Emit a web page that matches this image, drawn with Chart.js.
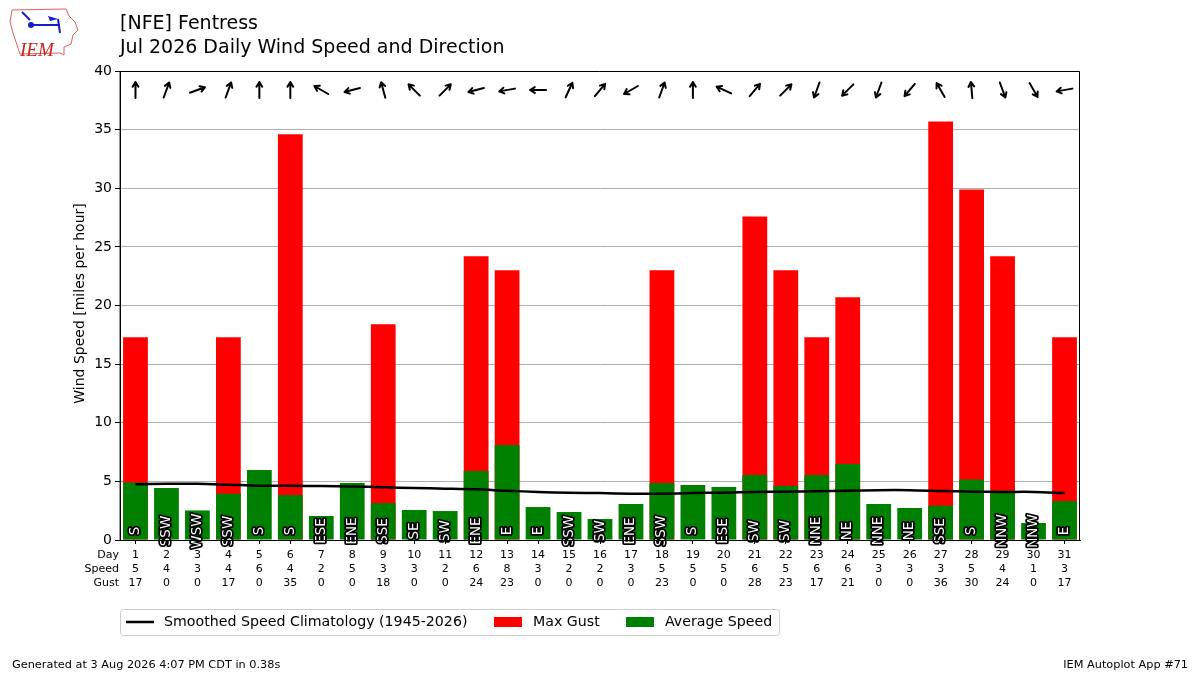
<!DOCTYPE html>
<html lang="en">
<head>
    <meta charset="UTF-8">
    <title>[NFE] Fentress - Jul 2026 Daily Wind Speed and Direction</title>
    <script src="https://cdn.jsdelivr.net/npm/chart.js"></script>
    <style>
        html, body { margin: 0; padding: 0; background: #fff; }
        canvas { display: block; }
    </style>
</head>
<body>
    <canvas id="windChart" width="1200" height="675"></canvas>

    <script>
        // values
        const days = ['1','2','3','4','5','6','7','8','9','10','11','12','13','14','15','16',
                      '17','18','19','20','21','22','23','24','25','26','27','28','29','30','31'];
        const avgSpeed = [4.9, 4.43, 2.52, 3.95, 5.97, 3.84, 2.05, 4.86, 3.16, 2.56, 2.47, 5.88, 8.1, 2.81, 2.39, 1.79,
                          3.07, 4.86, 4.69, 4.52, 5.54, 4.63, 5.54, 6.48, 3.07, 2.73, 2.93, 5.17, 4.2, 1.45, 3.33];
        const maxGust = [17.3, 0, 0, 17.3, 0, 34.6, 0, 0, 18.4, 0, 0, 24.2, 23.0, 0, 0, 0,
                         0, 23.0, 0, 0, 27.6, 23.0, 17.3, 20.7, 0, 0, 35.7, 29.9, 24.2, 0, 17.3];
        const climo = [4.75, 4.8, 4.8, 4.72, 4.63, 4.62, 4.6, 4.57, 4.5, 4.43, 4.38, 4.32, 4.2, 4.1, 4.03, 4.0,
                       3.95, 3.95, 4.0, 4.04, 4.1, 4.12, 4.15, 4.2, 4.25, 4.25, 4.18, 4.12, 4.1, 4.1, 4.0];
        // wind coming-from direction in degrees
        const dirDeg = [180, 200, 250, 200, 180, 180, 120, 75, 165, 135, 225, 75, 80, 90, 205, 220,
                        60, 200, 180, 115, 220, 225, 20, 45, 20, 40, 150, 175, 340, 330, 80];
        const dirText = ['S','SSW','WSW','SSW','S','S','ESE','ENE','SSE','SE','SW','ENE','E','E','SSW','SW',
                         'ENE','SSW','S','ESE','SW','SW','NNE','NE','NNE','NE','SSE','S','NNW','NNW','E'];
        const speedLabels = ['5','4','3','4','6','4','2','5','3','3','2','6','8','3','2','2',
                             '3','5','5','5','6','5','6','6','3','3','3','5','4','1','3'];
        const gustLabels = ['17','0','0','17','0','35','0','0','18','0','0','24','23','0','0','0',
                            '0','23','0','0','28','23','17','21','0','0','36','30','24','0','17'];
        const rowNames = ['Day', 'Speed', 'Gust'];

        const FONT = '"DejaVu Sans", sans-serif';
        const TICK_LEN = 4, TICK_PAD = 4, LINE_H = 14;

        // arrows, direction names, frame, titles, legend, footer
        const decorations = {
            id: 'decorations',
            afterDatasetsDraw(chart) {
                const { ctx, chartArea: a, scales: { x, y } } = chart;
                ctx.save();

                // direction names inside the bars
                ctx.font = '13.5px ' + FONT;
                ctx.textAlign = 'center';
                ctx.textBaseline = 'middle';
                ctx.lineJoin = 'round';
                dirText.forEach((t, i) => {
                    ctx.save();
                    ctx.translate(x.getPixelForValue(i), y.getPixelForValue(0) - 9);
                    ctx.rotate(-Math.PI / 2);
                    ctx.lineWidth = 3.5;
                    ctx.strokeStyle = '#000';
                    ctx.strokeText(t, 0, 0);
                    ctx.fillStyle = '#fff';
                    ctx.fillText(t, 0, 0);
                    ctx.restore();
                });

                // arrows pointing downwind
                ctx.strokeStyle = '#000';
                ctx.lineWidth = 2;
                ctx.lineCap = 'round';
                dirDeg.forEach((d, i) => {
                    const th = (d + 180) * Math.PI / 180;
                    const dx = Math.sin(th), dy = -Math.cos(th);
                    const ang = Math.atan2(dy, dx);
                    const cx = x.getPixelForValue(i), cy = a.top + 19, half = 8;
                    const tx = cx + dx * half, ty = cy + dy * half;
                    const hl = 5.5, ha = 0.55;
                    ctx.beginPath();
                    ctx.moveTo(cx - dx * half, cy - dy * half);
                    ctx.lineTo(tx, ty);
                    ctx.moveTo(tx - hl * Math.cos(ang - ha), ty - hl * Math.sin(ang - ha));
                    ctx.lineTo(tx, ty);
                    ctx.lineTo(tx - hl * Math.cos(ang + ha), ty - hl * Math.sin(ang + ha));
                    ctx.stroke();
                });

                // frame
                ctx.lineWidth = 1;
                ctx.strokeRect(a.left + 0.5, a.top + 0.5, a.width - 1, a.height);
                ctx.restore();
            },
            afterDraw(chart) {
                const { ctx, chartArea: a } = chart;
                ctx.save();
                ctx.fillStyle = '#000';

                // row headers for the tick table
                ctx.font = '11px ' + FONT;
                ctx.textAlign = 'right';
                ctx.textBaseline = 'middle';
                rowNames.forEach((r, k) => {
                    ctx.fillText(r, a.left - 1, a.bottom + TICK_LEN + TICK_PAD + LINE_H / 2 + k * LINE_H);
                });

                // y axis title
                ctx.save();
                ctx.translate(80, (a.top + a.bottom) / 2 - 2);
                ctx.rotate(-Math.PI / 2);
                ctx.textAlign = 'center';
                ctx.font = '14px ' + FONT;
                ctx.fillText('Wind Speed [miles per hour]', 0, 0);
                ctx.restore();

                // titles
                ctx.textAlign = 'left';
                ctx.font = '19px ' + FONT;
                ctx.fillText('[NFE] Fentress', 120, 24);
                ctx.fillText('Jul 2026 Daily Wind Speed and Direction', 120, 48);

                // footer
                ctx.font = '11.3px ' + FONT;
                ctx.fillText('Generated at 3 Aug 2026 4:07 PM CDT in 0.38s', 12, 665);
                ctx.textAlign = 'right';
                ctx.fillText('IEM Autoplot App #71', 1188, 665);

                // legend
                const ds = chart.data.datasets;
                ctx.textAlign = 'left';
                ctx.strokeStyle = '#cccccc';
                ctx.lineWidth = 1;
                ctx.beginPath();
                ctx.roundRect(120.5, 609.5, 659, 26, 3);
                ctx.fillStyle = '#fff';
                ctx.fill();
                ctx.stroke();
                ctx.font = '14.2px ' + FONT;
                ctx.fillStyle = '#000';
                ctx.strokeStyle = '#000';
                ctx.lineWidth = 2.5;
                ctx.beginPath();
                ctx.moveTo(126, 622);
                ctx.lineTo(154, 622);
                ctx.stroke();
                ctx.fillText(ds[0].label, 164, 622);
                ctx.fillStyle = ds[1].backgroundColor;
                ctx.fillRect(494, 617, 28, 10);
                ctx.fillStyle = '#000';
                ctx.fillText(ds[1].label, 533, 622);
                ctx.fillStyle = ds[2].backgroundColor;
                ctx.fillRect(626, 617, 28, 10);
                ctx.fillStyle = '#000';
                ctx.fillText(ds[2].label, 665, 622);

                // rough IEM logo
                ctx.strokeStyle = '#e06060';
                ctx.lineWidth = 1;
                ctx.beginPath();
                ctx.moveTo(12, 10); ctx.lineTo(66, 9); ctx.lineTo(69, 16); ctx.lineTo(75, 22);
                ctx.lineTo(78, 30); ctx.lineTo(73, 35); ctx.lineTo(71, 44); ctx.lineTo(64, 47);
                ctx.lineTo(64, 55); ctx.lineTo(60, 53); ctx.lineTo(20, 54); ctx.lineTo(17, 45);
                ctx.lineTo(13, 33); ctx.lineTo(10, 22); ctx.closePath();
                ctx.stroke();
                ctx.strokeStyle = '#1a1ad0';
                ctx.fillStyle = '#1a1ad0';
                ctx.lineWidth = 2;
                ctx.beginPath();
                ctx.moveTo(31, 25); ctx.lineTo(60, 25);
                ctx.moveTo(58, 19); ctx.lineTo(60, 33);
                ctx.moveTo(22, 12); ctx.lineTo(30, 20);
                ctx.stroke();
                ctx.beginPath();
                ctx.arc(31, 25, 3, 0, Math.PI * 2);
                ctx.fill();
                ctx.beginPath();
                ctx.moveTo(48, 16); ctx.lineTo(58, 19); ctx.lineTo(50, 21); ctx.closePath();
                ctx.fill();
                ctx.fillStyle = '#d02020';
                ctx.font = 'italic 19px "Liberation Serif", serif';
                ctx.fillText('IEM', 20, 51);
                ctx.restore();
            }
        };

        new Chart(document.getElementById('windChart'), {
            type: 'bar',
            data: {
                labels: days,
                datasets: [
                    {
                        type: 'line',
                        label: 'Smoothed Speed Climatology (1945-2026)',
                        data: climo,
                        borderColor: '#000',
                        borderWidth: 2.5,
                        pointRadius: 0,
                        tension: 0.3,
                        order: 0
                    },
                    { label: 'Max Gust', data: maxGust, backgroundColor: '#ff0000', order: 2 },
                    { label: 'Average Speed', data: avgSpeed, backgroundColor: '#008000', order: 1 }
                ]
            },
            options: {
                responsive: false,
                animation: false,
                devicePixelRatio: 1,
                layout: { padding: { left: 0, top: 71, right: 120, bottom: 0 } },
                datasets: { bar: { barPercentage: 0.8, categoryPercentage: 1.0 } },
                scales: {
                    x: {
                        stacked: true,
                        afterFit: (s) => { s.height = 135; },
                        grid: { offset: false, drawOnChartArea: false, tickLength: TICK_LEN, color: '#000' },
                        border: { color: '#000' },
                        ticks: {
                            autoSkip: false,
                            maxRotation: 0,
                            padding: TICK_PAD,
                            color: '#000',
                            font: { family: FONT, size: 11, lineHeight: LINE_H / 11 },
                            callback: (v, i) => [days[i], speedLabels[i], gustLabels[i]]
                        }
                    },
                    y: {
                        stacked: false,
                        min: 0,
                        max: 40,
                        afterFit: (s) => { s.width = 120; },
                        grid: { color: '#b0b0b0', tickColor: '#000', tickLength: 5 },
                        border: { color: '#000' },
                        ticks: {
                            stepSize: 5,
                            padding: 3,
                            color: '#000',
                            font: { family: FONT, size: 14 }
                        }
                    }
                },
                plugins: {
                    legend: { display: false },
                    tooltip: { enabled: false }
                }
            },
            plugins: [decorations]
        });
    </script>
</body>
</html>
